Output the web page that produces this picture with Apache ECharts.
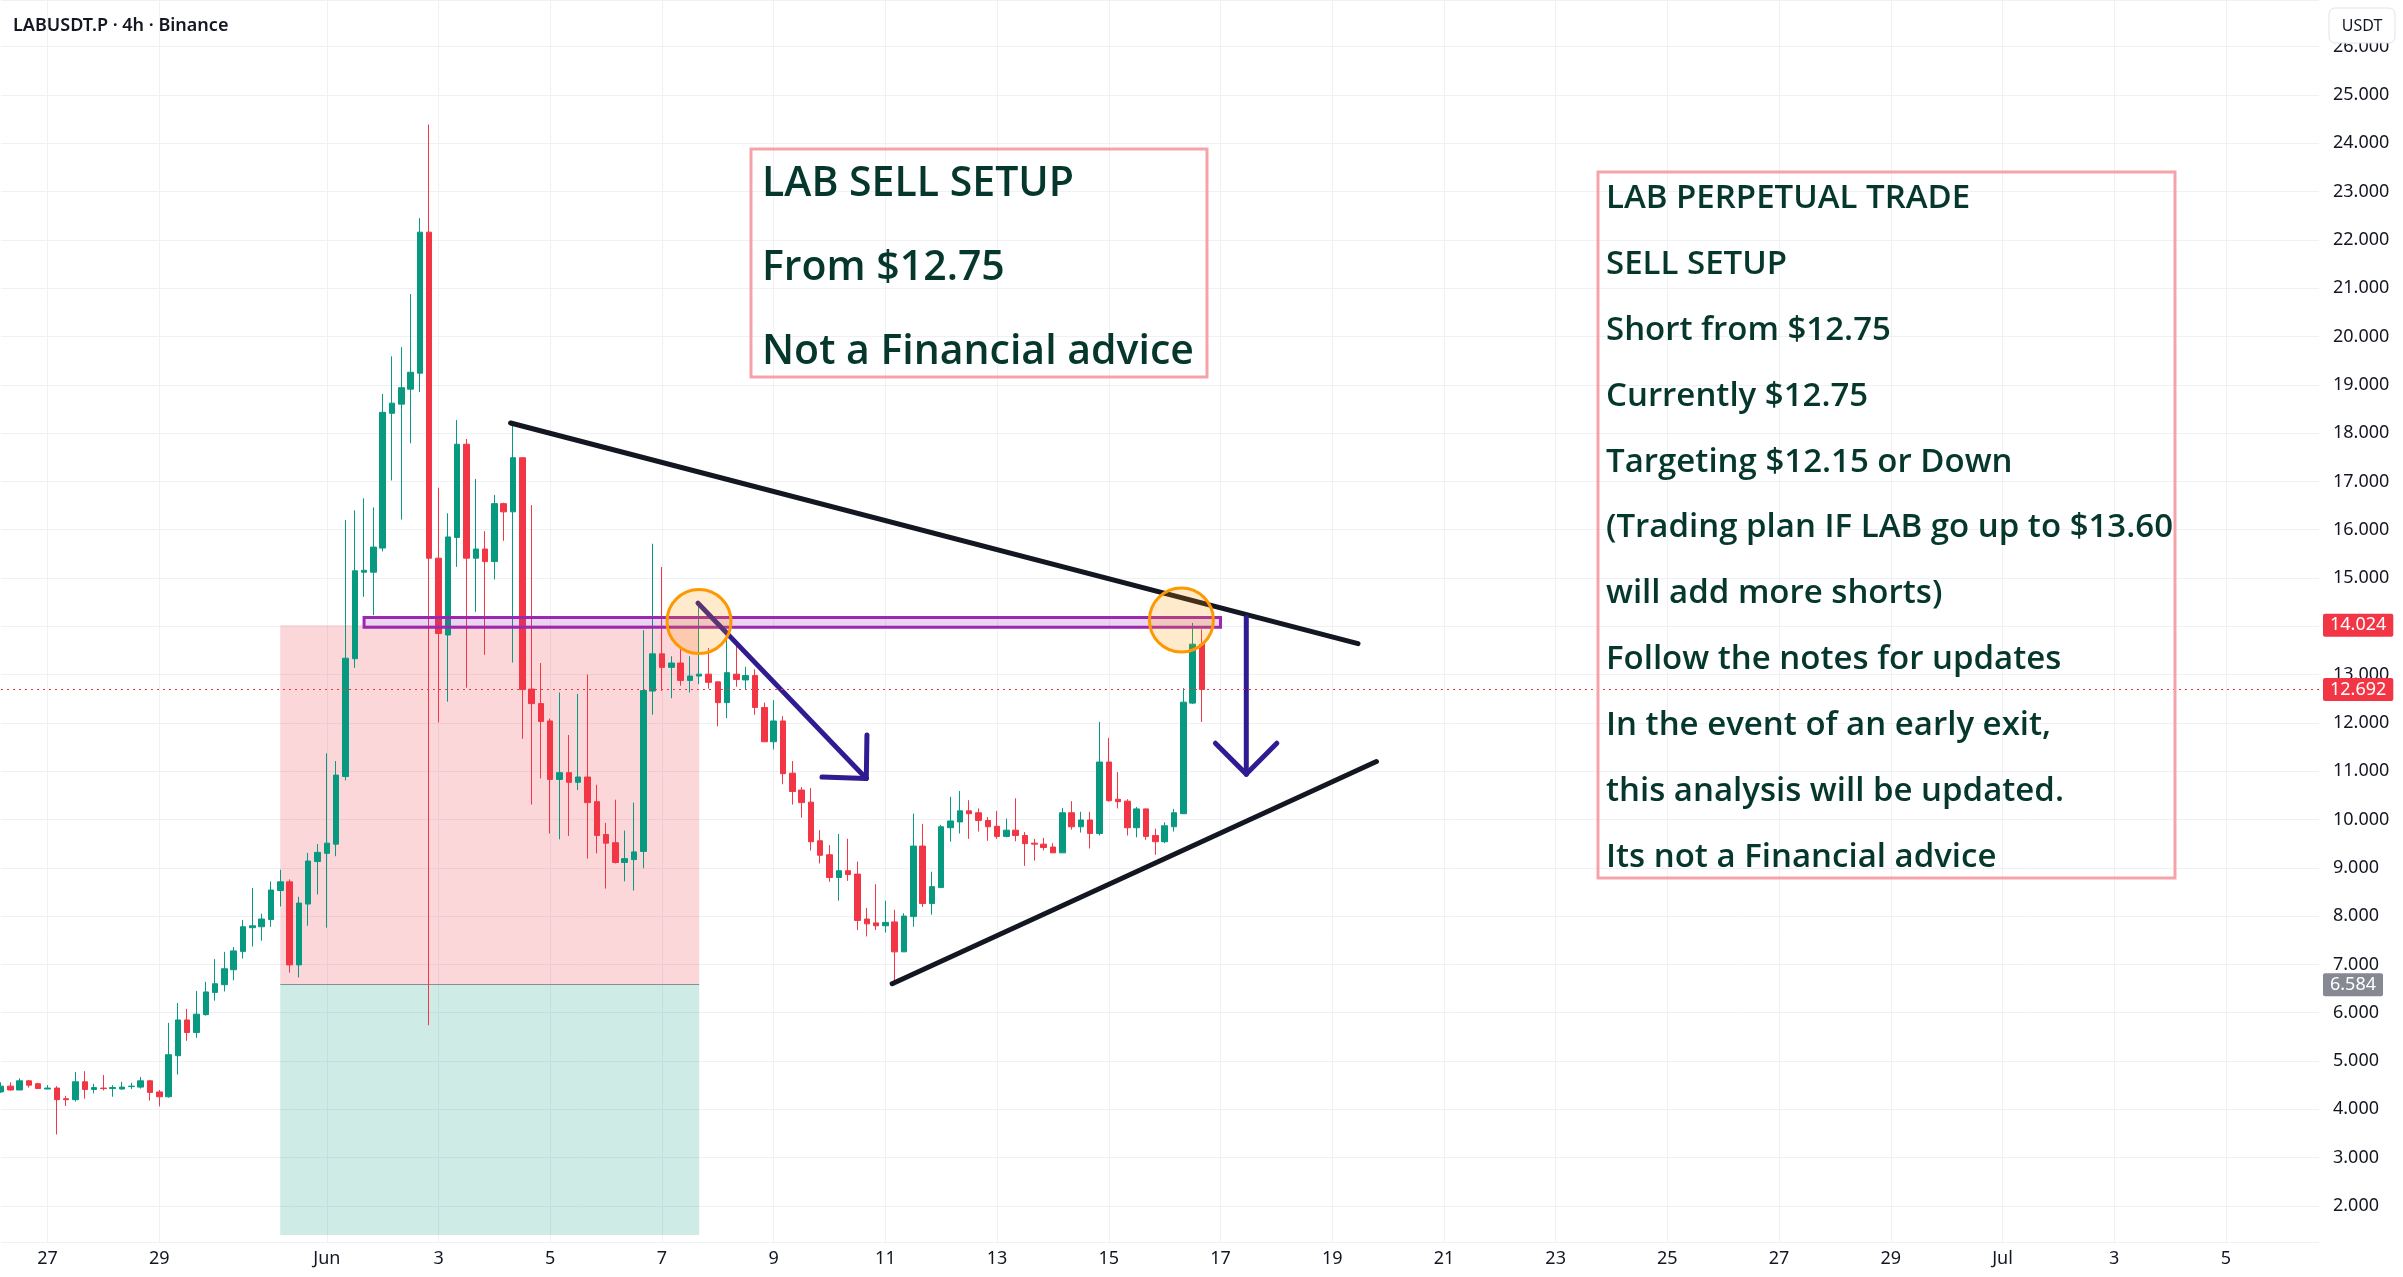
<!DOCTYPE html>
<html>
<head>
<meta charset="utf-8">
<title>LABUSDT.P 4h</title>
<script src="https://cdn.jsdelivr.net/npm/echarts@6/dist/echarts.min.js"></script>
<style>
  html, body { margin: 0; padding: 0; background: #fff; }
  #chart { width: 2403px; height: 1277px; }
</style>
</head>
<body>
<div id="chart"></div>
<script>
// slot = one 4h candle, slot 0 = 1 Jun 00:00, first slot on screen is 26 May 04:00
const firstSlot = -35;
const slotCount = 250;

// [open, close, low, high] from 26 May 04:00 to 16 Jun 16:00
const candles = [
  // May 26
  [4.36, 4.48, 4.34, 4.56], [4.48, 4.40, 4.39, 4.56], [4.40, 4.59, 4.40, 4.64], [4.59, 4.50, 4.45, 4.61], [4.53, 4.43, 4.43, 4.55],
  // May 27
  [4.42, 4.44, 4.42, 4.50], [4.44, 4.20, 3.48, 4.48], [4.22, 4.20, 4.07, 4.28], [4.20, 4.57, 4.16, 4.77], [4.57, 4.41, 4.22, 4.79], [4.41, 4.45, 4.33, 4.53],
  // May 28
  [4.44, 4.43, 4.39, 4.71], [4.43, 4.45, 4.26, 4.50], [4.42, 4.46, 4.41, 4.57], [4.47, 4.48, 4.42, 4.55], [4.46, 4.59, 4.43, 4.67], [4.59, 4.35, 4.18, 4.61],
  // May 29
  [4.36, 4.26, 4.06, 4.40], [4.26, 5.13, 4.24, 5.79], [5.11, 5.85, 4.72, 6.20], [5.85, 5.59, 5.42, 6.08], [5.59, 5.97, 5.48, 6.45], [5.96, 6.43, 5.94, 6.64],
  // May 30
  [6.42, 6.60, 6.25, 7.11], [6.58, 6.91, 6.44, 7.26], [6.89, 7.28, 6.67, 7.36], [7.27, 7.78, 7.12, 7.92], [7.76, 7.80, 7.37, 8.58], [7.78, 7.94, 7.49, 8.05],
  // May 31
  [7.93, 8.54, 7.78, 8.72], [8.53, 8.71, 8.20, 8.96], [8.71, 6.99, 6.83, 8.76], [6.99, 8.27, 6.73, 8.40], [8.25, 9.14, 7.80, 9.31], [9.13, 9.32, 8.45, 9.49],
  // Jun 1
  [9.30, 9.51, 7.76, 11.37], [9.49, 10.92, 9.24, 11.21], [10.89, 13.34, 10.81, 16.20], [13.33, 15.15, 13.14, 16.40], [15.12, 15.16, 14.61, 16.65], [15.12, 15.64, 14.23, 16.46],
  // Jun 2
  [15.62, 18.43, 15.55, 18.81], [18.41, 18.62, 17.02, 19.59], [18.60, 18.94, 16.21, 19.78], [18.91, 19.26, 17.79, 20.88], [19.24, 22.16, 18.85, 22.45], [22.16, 15.41, 5.74, 24.39],
  // Jun 3
  [15.41, 13.85, 12.01, 16.87], [13.82, 15.85, 12.44, 16.34], [15.84, 17.77, 15.23, 18.27], [17.77, 15.41, 12.73, 17.88], [15.41, 15.60, 14.30, 17.05], [15.60, 15.34, 13.41, 15.97],
  // Jun 4
  [15.34, 16.54, 14.97, 16.72], [16.54, 16.37, 15.77, 16.56], [16.37, 17.49, 13.25, 18.23], [17.49, 12.69, 11.67, 17.50], [12.70, 12.40, 10.31, 16.51], [12.40, 12.03, 10.85, 13.24],
  // Jun 5
  [12.04, 10.83, 9.71, 12.09], [10.83, 10.97, 9.59, 12.63], [10.97, 10.77, 9.66, 11.75], [10.77, 10.88, 10.61, 12.60], [10.88, 10.35, 9.19, 13.00], [10.37, 9.67, 9.30, 10.72],
  // Jun 6
  [9.69, 9.51, 8.57, 9.93], [9.52, 9.11, 9.09, 10.41], [9.11, 9.19, 8.72, 9.77], [9.17, 9.33, 8.53, 10.35], [9.34, 12.67, 8.99, 13.92], [12.66, 13.43, 12.17, 15.71],
  // Jun 7
  [13.43, 13.15, 12.66, 15.23], [13.15, 13.24, 12.51, 13.38], [13.24, 12.88, 12.77, 13.55], [12.88, 12.97, 12.63, 13.38], [12.97, 13.01, 12.80, 14.45], [13.01, 12.84, 12.71, 13.55],
  // Jun 8
  [12.85, 12.42, 11.93, 12.85], [12.42, 13.04, 12.10, 13.93], [13.01, 12.90, 12.75, 13.62], [12.89, 12.98, 12.68, 13.16], [12.98, 12.32, 12.17, 13.11], [12.32, 11.61, 11.61, 12.42],
  // Jun 9
  [11.61, 12.04, 11.45, 12.47], [12.04, 10.95, 10.73, 12.14], [10.96, 10.58, 10.31, 11.21], [10.61, 10.35, 10.04, 10.67], [10.36, 9.54, 9.36, 10.65], [9.56, 9.26, 9.09, 9.78],
  // Jun 10
  [9.27, 8.80, 8.71, 9.47], [8.80, 8.94, 8.32, 9.70], [8.94, 8.86, 8.73, 9.60], [8.87, 7.91, 7.71, 9.13], [7.94, 7.84, 7.58, 8.17], [7.86, 7.80, 7.71, 8.66],
  // Jun 11
  [7.80, 7.87, 7.66, 8.32], [7.88, 7.26, 6.57, 8.13], [7.26, 8.00, 7.26, 8.06], [7.99, 9.45, 7.78, 10.12], [9.45, 8.26, 8.19, 9.91], [8.26, 8.61, 8.03, 8.92],
  // Jun 12
  [8.59, 9.85, 8.59, 9.89], [9.83, 9.97, 9.54, 10.47], [9.95, 10.18, 9.71, 10.59], [10.18, 10.12, 9.60, 10.40], [10.14, 9.98, 9.75, 10.23], [9.98, 9.85, 9.56, 10.05],
  // Jun 13
  [9.86, 9.65, 9.60, 10.18], [9.65, 9.78, 9.63, 10.02], [9.78, 9.67, 9.55, 10.44], [9.67, 9.50, 9.04, 9.74], [9.51, 9.49, 9.15, 9.60], [9.49, 9.42, 9.36, 9.62],
  // Jun 14
  [9.43, 9.31, 9.31, 9.51], [9.31, 10.14, 9.31, 10.24], [10.14, 9.85, 9.79, 10.38], [9.85, 9.99, 9.73, 10.16], [9.99, 9.71, 9.40, 10.16], [9.71, 11.19, 9.67, 12.02],
  // Jun 15
  [11.19, 10.39, 10.37, 11.69], [10.42, 10.37, 10.23, 10.98], [10.38, 9.83, 9.67, 10.42], [9.83, 10.22, 9.63, 10.26], [10.22, 9.65, 9.58, 10.22], [9.67, 9.54, 9.27, 9.81],
  // Jun 16
  [9.54, 9.87, 9.51, 9.94], [9.85, 10.14, 9.75, 10.22], [10.12, 12.43, 10.12, 12.72], [12.41, 13.63, 12.39, 14.07], [13.63, 12.692, 12.02, 13.94]
];

const tickDates = ['05-27', '05-29', '06-01', '06-03', '06-05', '06-07', '06-09', '06-11', '06-13', '06-15',
  '06-17', '06-19', '06-21', '06-23', '06-25', '06-27', '06-29', '07-01', '07-03', '07-05'];
const tickLabels = ['27', '29', 'Jun', '3', '5', '7', '9', '11', '13', '15',
  '17', '19', '21', '23', '25', '27', '29', 'Jul', '3', '5'];

const lastPrice = 12.692;
const stopPrice = 14.024;
const entryPrice = 6.584;
const targetPrice = 1.40;

// drawings, in [slot, price] pairs
const positionZones = [
  [-5, stopPrice, 40, entryPrice],
  [-5, entryPrice, 40, targetPrice]
];
const resistanceZone = [[4, 14.18, 96, 13.98]];
const trendLines = [
  [19.74, 18.21, 110.77, 13.64],
  [60.73, 6.60, 112.75, 11.20]
];
const arrowSegments = [
  [39.87, 14.48, 57.95, 10.85], [58.02, 11.75, 57.95, 10.85], [53.19, 10.88, 57.95, 10.85],
  [98.77, 14.18, 98.77, 10.94], [95.45, 11.58, 98.77, 10.94], [102.05, 11.58, 98.77, 10.94]
];
const touchPoints = [[39.98, 14.10], [91.8, 14.13]];

const noteLeft = ['LAB SELL SETUP', 'From $12.75', 'Not a Financial advice'];
const noteRight = [
  'LAB PERPETUAL TRADE',
  'SELL SETUP',
  'Short from $12.75',
  'Currently $12.75',
  'Targeting $12.15 or Down',
  '(Trading plan IF LAB go up to $13.60',
  'will add more shorts)',
  'Follow the notes for updates',
  'In the event of an early exit,',
  'this analysis will be updated.',
  'Its not a Financial advice'
];

const categories = [];
const t0 = Date.UTC(2025, 4, 26, 4);
for (let i = 0; i < slotCount; i++) {
  const d = new Date(t0 + i * 4 * 3600 * 1000);
  const mm = String(d.getUTCMonth() + 1).padStart(2, '0');
  const dd = String(d.getUTCDate()).padStart(2, '0');
  const hh = String(d.getUTCHours()).padStart(2, '0');
  categories.push(mm + '-' + dd + ' ' + hh + ':00');
}
const tickMap = {};
tickDates.forEach((d, i) => { tickMap[d + ' 00:00'] = tickLabels[i]; });
const isTick = (idx, val) => tickMap[val] !== undefined;

const UP = '#089981';
const DOWN = '#F23645';
const GRID = '#eff1f4';
const INK = '#131722';
const NOTE_INK = '#06372c';
const NOTE_BORDER = '#f5a3a9';
const FONT = '"Noto Sans", sans-serif';
const NOTE_FONT = '"Open Sans", sans-serif';

function priceTag(bg, value) {
  return {
    show: true,
    position: 'end',
    distance: 4,
    formatter: value.toFixed(3),
    backgroundColor: bg,
    color: '#fff',
    fontSize: 18,
    fontFamily: FONT,
    padding: [3, 7, 2, 7],
    borderRadius: 2
  };
}

function segments(color, width) {
  return function (params, api) {
    const a = api.coord([api.value(0), api.value(1)]);
    const b = api.coord([api.value(2), api.value(3)]);
    return {
      type: 'line',
      shape: { x1: a[0], y1: a[1], x2: b[0], y2: b[1] },
      style: { stroke: color, lineWidth: width, lineCap: 'round' }
    };
  };
}

const chart = echarts.init(document.getElementById('chart'));

const graphics = [
  {
    type: 'text', x: 13, y: 26, z: 100,
    style: { text: 'LABUSDT.P · 4h · Binance', font: '600 18px ' + FONT, fill: INK, verticalAlign: 'middle' }
  },
  {
    type: 'rect', z: 100,
    shape: { x: 2329, y: 8, width: 66, height: 35, r: 6 },
    style: { fill: '#fff', stroke: '#e0e3eb', lineWidth: 1 }
  },
  {
    type: 'text', x: 2362, y: 26, z: 101,
    style: { text: 'USDT', font: '16px ' + FONT, fill: INK, align: 'center', verticalAlign: 'middle' }
  },
  {
    type: 'rect', z: 100,
    shape: { x: 751, y: 149, width: 456, height: 228 },
    style: { fill: 'none', stroke: NOTE_BORDER, lineWidth: 3 }
  },
  {
    type: 'rect', z: 100,
    shape: { x: 1598, y: 172, width: 577, height: 706 },
    style: { fill: 'none', stroke: NOTE_BORDER, lineWidth: 3 }
  }
];
noteLeft.forEach((line, i) => {
  graphics.push({
    type: 'text', x: 762, y: 184 + i * 84, z: 101,
    style: { text: line, font: '600 41px ' + NOTE_FONT, fill: NOTE_INK, verticalAlign: 'middle' }
  });
});
noteRight.forEach((line, i) => {
  graphics.push({
    type: 'text', x: 1606, y: 198.5 + i * 65.9, z: 101,
    style: { text: line, font: '600 33px ' + NOTE_FONT, fill: NOTE_INK, verticalAlign: 'middle' }
  });
});

const option = {
  animation: false,
  backgroundColor: '#fff',
  textStyle: { fontFamily: FONT },
  grid: { left: 1, right: 84, top: 0, bottom: 35, containLabel: false },
  xAxis: [
    {
      type: 'category',
      data: categories,
      boundaryGap: false,
      axisLine: { show: false },
      axisTick: { show: false },
      axisLabel: {
        interval: isTick,
        formatter: (v) => tickMap[v],
        color: INK,
        fontSize: 18,
        margin: 8
      },
      splitLine: { show: true, interval: isTick, lineStyle: { color: GRID, width: 1 } }
    },
    {
      type: 'value',
      min: firstSlot,
      max: firstSlot + slotCount - 1,
      show: false
    }
  ],
  yAxis: {
    type: 'value',
    position: 'right',
    min: 1.253,
    max: 26.967,
    splitNumber: 25,
    axisLine: { show: false },
    axisTick: { show: false },
    axisLabel: {
      formatter: (v) => v.toFixed(3),
      color: INK,
      fontSize: 18,
      margin: 14,
      showMinLabel: false,
      showMaxLabel: false
    },
    splitLine: { lineStyle: { color: GRID, width: 1 } }
  },
  series: [
    {
      name: 'position',
      type: 'custom',
      xAxisIndex: 1,
      z: 1,
      silent: true,
      data: positionZones,
      renderItem: (params, api) => {
        const a = api.coord([api.value(0), api.value(1)]);
        const b = api.coord([api.value(2), api.value(3)]);
        const fills = ['rgba(242,54,69,0.2)', 'rgba(8,153,129,0.2)'];
        const rect = {
          type: 'rect',
          shape: { x: a[0], y: a[1], width: b[0] - a[0], height: b[1] - a[1] },
          style: { fill: fills[params.dataIndex] }
        };
        if (params.dataIndex === 0) return rect;
        return {
          type: 'group',
          children: [rect, {
            type: 'line',
            shape: { x1: a[0], y1: a[1], x2: b[0], y2: a[1] },
            style: { stroke: '#8a8d96', lineWidth: 1 }
          }]
        };
      }
    },
    {
      name: 'LABUSDT.P',
      type: 'candlestick',
      data: candles,
      barWidth: 6,
      itemStyle: {
        color: UP,
        color0: DOWN,
        borderColor: UP,
        borderColor0: DOWN,
        borderWidth: 1
      },
      markLine: {
        symbol: 'none',
        silent: true,
        animation: false,
        data: [
          { yAxis: lastPrice, lineStyle: { color: DOWN, type: [2, 4], width: 1 }, label: priceTag(DOWN, lastPrice) },
          { yAxis: stopPrice, lineStyle: { color: 'rgba(0,0,0,0)', width: 0 }, label: priceTag(DOWN, stopPrice) },
          { yAxis: entryPrice, lineStyle: { color: 'rgba(0,0,0,0)', width: 0 }, label: priceTag('#868993', entryPrice) }
        ]
      }
    },
    {
      name: 'zone',
      type: 'custom',
      xAxisIndex: 1,
      z: 3,
      silent: true,
      data: resistanceZone,
      renderItem: (params, api) => {
        const a = api.coord([api.value(0), api.value(1)]);
        const b = api.coord([api.value(2), api.value(3)]);
        return {
          type: 'rect',
          shape: { x: a[0], y: a[1], width: b[0] - a[0], height: b[1] - a[1] },
          style: { fill: 'rgba(156,39,176,0.2)', stroke: '#9c27b0', lineWidth: 3 }
        };
      }
    },
    {
      name: 'trend',
      type: 'custom',
      xAxisIndex: 1,
      z: 4,
      silent: true,
      data: trendLines,
      renderItem: segments(INK, 5)
    },
    {
      name: 'arrows',
      type: 'custom',
      xAxisIndex: 1,
      z: 4,
      silent: true,
      data: arrowSegments,
      renderItem: segments('#311b92', 5)
    },
    {
      name: 'touches',
      type: 'custom',
      xAxisIndex: 1,
      z: 5,
      silent: true,
      data: touchPoints,
      renderItem: (params, api) => {
        const c = api.coord([api.value(0), api.value(1)]);
        return {
          type: 'circle',
          shape: { cx: c[0], cy: c[1], r: 32 },
          style: { fill: 'rgba(255,152,0,0.2)', stroke: '#ff9800', lineWidth: 3 }
        };
      }
    }
  ],
  graphic: graphics
};

chart.setOption(option);
</script>
</body>
</html>
